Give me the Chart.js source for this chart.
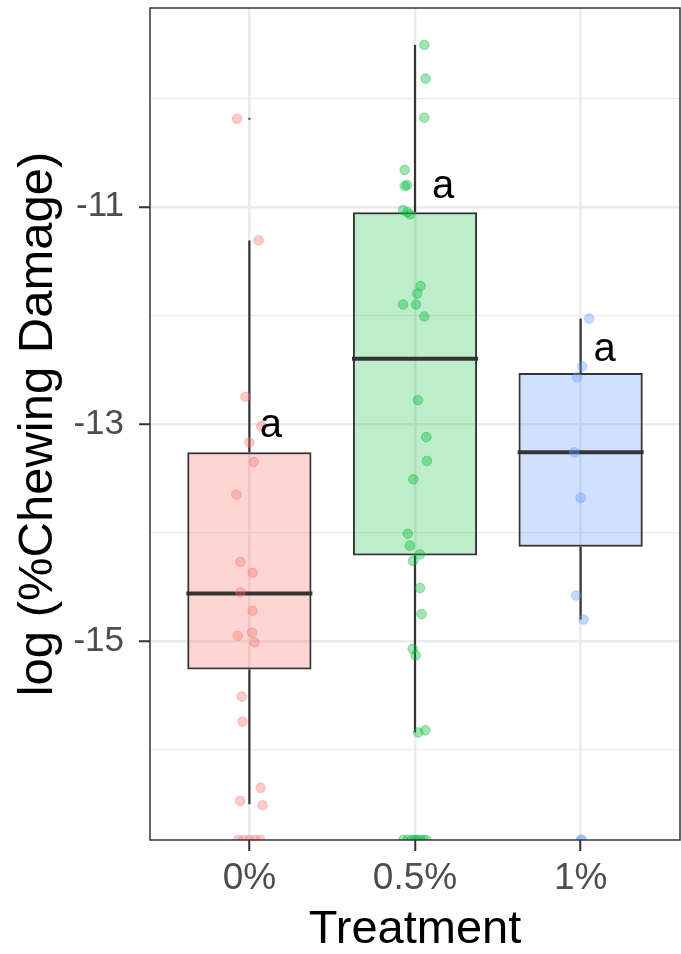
<!DOCTYPE html>
<html>
<head>
<meta charset="utf-8">
<script src="https://cdn.jsdelivr.net/npm/chart.js@4.4.0/dist/chart.umd.min.js"></script>
<style>
html, body { margin: 0; padding: 0; background: #fff; }
#wrap { width: 681px; height: 954px; }
</style>
</head>
<body>
<div id="wrap"><canvas id="myChart"></canvas></div>
<script>
var treatments = ["0%", "0.5%", "1%"]
var yTicks = [-16, -15, -14, -13, -12, -11, -10]
var yLabels = [-15, -13, -11]
var yMin = -16.83
var yMax = -9.17

// boxplot stats
var whiskerLow = [-16.50, -15.84, -14.80]
var q1 = [-15.26, -14.21, -14.13]
var medians = [-14.56, -12.40, -13.26]
var q3 = [-13.26, -11.05, -12.53]
var whiskerHigh = [-11.31, -9.51, -12.03]
var outlierGroup = [0]
var outlierValue = [-10.19]

// jittered observations
var pts0 = [-10.19, -11.31, -12.75, -13.02, -13.17, -13.35, -13.65, -14.27, -14.37, -14.55, -14.72, -14.95, -14.92, -15.01, -15.51, -15.74, -16.35, -16.47, -16.51, -16.83, -16.83, -16.83, -16.83, -16.83]
var jit0 = [-0.074, 0.056, -0.024, 0.072, 0.0, 0.026, -0.078, -0.054, 0.020, -0.054, 0.020, -0.070, 0.016, 0.030, -0.046, -0.042, 0.068, -0.056, 0.080, -0.068, -0.035, 0.0, 0.035, 0.066]
var pts1 = [-9.51, -9.82, -10.18, -10.66, -10.81, -10.80, -11.03, -11.05, -11.07, -11.73, -11.80, -11.90, -11.90, -12.01, -12.78, -13.12, -13.34, -13.51, -14.01, -14.12, -14.20, -14.26, -14.51, -14.75, -15.07, -15.13, -15.84, -15.82, -16.83, -16.83, -16.83, -16.83, -16.83, -16.83, -16.83, -16.83]
var jit1 = [0.056, 0.064, 0.056, -0.062, -0.062, -0.048, -0.072, -0.046, -0.030, 0.034, 0.014, -0.072, 0.006, 0.056, 0.018, 0.068, 0.072, -0.010, -0.044, -0.032, 0.030, -0.012, 0.030, 0.040, -0.014, 0.004, 0.020, 0.062, -0.070, -0.045, -0.020, 0.0, 0.012, 0.030, 0.050, 0.068]
var pts2 = [-12.03, -12.47, -12.57, -13.26, -13.68, -14.58, -14.80, -16.83, -16.83]
var jit2 = [0.052, 0.010, -0.022, -0.038, 0.0, -0.028, 0.018, 0.0, 0.008]

var letters = ["a", "a", "a"]
var letterY = [-13.12, -10.92, -12.42]
var letterShift = [0.13, 0.17, 0.145]

var fillColors = ["rgba(248,118,109,0.3)", "rgba(0,186,56,0.26)", "rgba(97,156,255,0.3)"]
var pointColors = ["rgba(248,118,109,0.38)", "rgba(0,186,56,0.38)", "rgba(97,156,255,0.38)"]
var fontFamily = "'Liberation Sans', Arial, Helvetica, sans-serif"

function jitterData(g, ys, js) {
    return ys.map((y, i) => ({ x: g + 1 + js[i], y: y }))
}

function pointSet(g, ys, js) {
    return {
        type: "scatter",
        data: jitterData(g, ys, js),
        pointRadius: 4.8,
        pointBorderWidth: 1,
        pointBackgroundColor: pointColors[g],
        pointBorderColor: pointColors[g],
        clip: 0,
        order: 0
    }
}

var panelPlugin = {
    id: "panel",
    afterDatasetsDraw(chart) {
        var c = chart.ctx, a = chart.chartArea
        var xs = chart.scales.x, ys = chart.scales.y
        c.save()
        c.fillStyle = "#000"
        c.font = "40px " + fontFamily
        c.textAlign = "center"
        c.textBaseline = "alphabetic"
        letters.forEach((t, i) => {
            c.fillText(t, xs.getPixelForValue(i + 1 + letterShift[i]), ys.getPixelForValue(letterY[i]))
        })
        c.strokeStyle = "#333"
        c.lineWidth = 1.5
        c.strokeRect(a.left, a.top, a.right - a.left, a.bottom - a.top)
        c.restore()
    }
}

function noPad(axis) {
    axis.paddingTop = 0
    axis.paddingBottom = 0
    axis.paddingLeft = 0
    axis.paddingRight = 0
}

var chartField = document.querySelector("#myChart").getContext("2d")

var myChart = new Chart(chartField, {
    type: "bar",
    data: {
        datasets: [
            pointSet(0, pts0, jit0),
            pointSet(1, pts1, jit1),
            pointSet(2, pts2, jit2),
            {
                type: "scatter",
                data: outlierGroup.map((g, i) => ({ x: g + 1, y: outlierValue[i] })),
                pointRadius: 1.3,
                pointBorderWidth: 0,
                pointBackgroundColor: "#666",
                order: 1
            },
            {
                type: "scatter",
                data: medians.map((m, i) => ({ x: i + 1, y: m })),
                pointStyle: "line",
                pointRadius: 63,
                pointBorderWidth: 4,
                pointBorderColor: "#333",
                order: 2
            },
            {
                data: treatments.map((t, i) => ({ x: i + 1, y: [q1[i], q3[i]] })),
                backgroundColor: fillColors,
                borderColor: "#333",
                borderWidth: 2,
                borderSkipped: false,
                barPercentage: 0.75,
                categoryPercentage: 1,
                grouped: false,
                order: 3
            },
            {
                data: treatments.map((t, i) => ({ x: i + 1, y: [whiskerLow[i], q1[i]] })),
                backgroundColor: "#333",
                maxBarThickness: 2.2,
                grouped: false,
                order: 4
            },
            {
                data: treatments.map((t, i) => ({ x: i + 1, y: [q3[i], whiskerHigh[i]] })),
                backgroundColor: "#333",
                maxBarThickness: 2.2,
                grouped: false,
                order: 4
            }
        ]
    },
    options: {
        responsive: true,
        maintainAspectRatio: false,
        animation: false,
        events: [],
        layout: { autoPadding: false, padding: { top: 8, right: 1, left: 0, bottom: 0 } },
        plugins: { legend: { display: false }, tooltip: { enabled: false } },
        scales: {
            x: {
                type: "linear",
                min: 0.4,
                max: 3.6,
                offset: false,
                afterBuildTicks: (axis) => { axis.ticks = treatments.map((t, i) => ({ value: i + 1 })) },
                afterFit: (axis) => { axis.height = 114; noPad(axis) },
                ticks: {
                    callback: (v, i) => treatments[i],
                    color: "#4D4D4D",
                    font: { family: fontFamily, size: 37 },
                    padding: 6,
                    maxRotation: 0,
                    autoSkip: false
                },
                grid: { offset: false, color: "#EBEBEB", lineWidth: 2.5, tickLength: 11, tickColor: "#333", tickWidth: 2 },
                border: { display: false },
                title: { display: true, text: "Treatment", color: "#000", font: { family: fontFamily, size: 47, lineHeight: 1 }, padding: 0 }
            },
            y: {
                min: yMin,
                max: yMax,
                afterBuildTicks: (axis) => { axis.ticks = yTicks.map(v => ({ value: v })) },
                afterFit: (axis) => { axis.width = 150; noPad(axis) },
                ticks: {
                    callback: (v) => yLabels.includes(v) ? String(v) : "",
                    color: "#4D4D4D",
                    font: { family: fontFamily, size: 35 },
                    padding: 15
                },
                grid: {
                    color: "#EBEBEB",
                    lineWidth: (ctx) => ctx.tick && yLabels.includes(ctx.tick.value) ? 2.5 : 1.2,
                    tickColor: (ctx) => ctx.tick && yLabels.includes(ctx.tick.value) ? "#333" : "rgba(0,0,0,0)",
                    tickLength: 11,
                    tickWidth: 2
                },
                border: { display: false },
                title: { display: true, text: "log (%Chewing Damage)", color: "#000", font: { family: fontFamily, size: 49, lineHeight: 1 }, padding: { top: 14, bottom: 0 } }
            }
        }
    },
    plugins: [panelPlugin]
});
</script>
</body>
</html>
